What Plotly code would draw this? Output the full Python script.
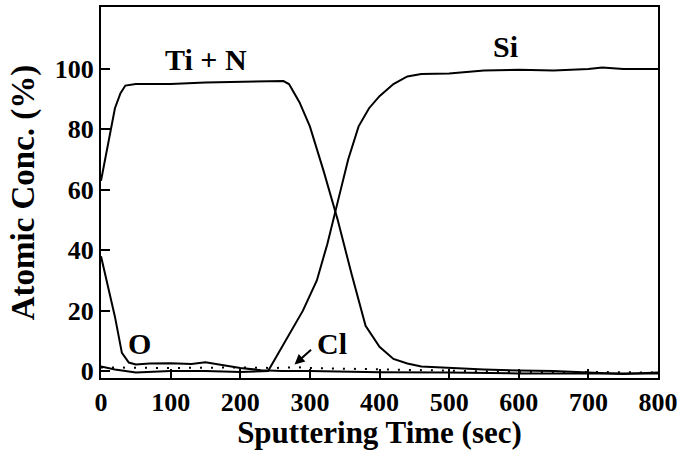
import plotly.graph_objects as go

# Ti + N
tin_t = [0, 10, 20, 28, 35, 50, 100, 150, 200, 250, 262, 270, 285, 300, 320, 340, 360, 380, 400, 420, 440, 460, 500, 550, 600, 650, 700, 750, 800]
tin_c = [63, 75, 87, 92, 94.5, 95, 95, 95.5, 95.8, 96, 96, 95, 89, 81, 66, 50, 32, 15, 8, 4, 2.5, 1.5, 1, 0.5, 0.2, 0, -0.5, -1, -0.5]

# Si
si_t = [0, 20, 50, 100, 150, 200, 240, 250, 270, 290, 310, 325, 340, 355, 370, 385, 400, 420, 440, 460, 500, 550, 600, 650, 700, 720, 750, 800]
si_c = [1.5, 0.5, -0.5, 0, 0, -0.3, 0, 4, 12, 20, 30, 42, 56, 70, 81, 87, 91, 95, 97.5, 98.3, 98.5, 99.5, 99.7, 99.5, 100, 100.5, 100, 100]

# O
o_t = [0, 10, 20, 30, 40, 50, 70, 100, 130, 150, 170, 200, 230, 260, 300, 400, 500, 600, 700, 800]
o_c = [38, 28, 18, 6, 2.8, 2.2, 2.5, 2.6, 2.3, 2.9, 2.2, 1, 0.3, 0, 0, -0.4, -0.5, -0.8, -0.8, -0.8]

# Cl
cl_t = [0, 50, 100, 150, 200, 250, 280, 300, 350, 400, 450, 500, 600, 700, 800]
cl_c = [1.2, 1.0, 1.0, 1.1, 1.2, 1.0, 1.3, 1.0, 0.8, 0.6, 0.3, 0.0, -0.3, -0.3, -0.5]

x_ticks = [0, 100, 200, 300, 400, 500, 600, 700, 800]
y_ticks = [0, 20, 40, 60, 80, 100]

font_family = "Liberation Serif, Times New Roman, serif"
line_style = dict(color="black", width=2)

fig = go.Figure()
fig.add_trace(go.Scatter(x=tin_t, y=tin_c, mode="lines", line=line_style, name="Ti + N"))
fig.add_trace(go.Scatter(x=si_t, y=si_c, mode="lines", line=line_style, name="Si"))
fig.add_trace(go.Scatter(x=o_t, y=o_c, mode="lines", line=line_style, name="O"))
fig.add_trace(go.Scatter(x=cl_t, y=cl_c, mode="lines", line=dict(color="black", width=2, dash="2px,9px"), name="Cl"))

ann_font = dict(family=font_family, size=30, color="black")
fig.add_annotation(x=151, y=103, text="<b>Ti + N</b>", showarrow=False, font=ann_font)
fig.add_annotation(x=581, y=107.5, text="<b>Si</b>", showarrow=False, font=ann_font)
fig.add_annotation(x=56, y=9, text="<b>O</b>", showarrow=False, font=ann_font)
fig.add_annotation(x=332, y=9, text="<b>Cl</b>", showarrow=False, font=ann_font)
fig.add_annotation(x=278, y=2.2, ax=18, ay=-16, text="", showarrow=True,
                   arrowhead=2, arrowsize=1, arrowwidth=2, arrowcolor="black")

fig.update_layout(
    width=683, height=450,
    margin=dict(l=101, r=22, t=5, b=72),
    plot_bgcolor="white", paper_bgcolor="white",
    showlegend=False,
    font=dict(family=font_family, color="black"),
)
fig.update_xaxes(
    range=[0, 800], tickvals=x_ticks, ticktext=[f"<b>{v}</b>" for v in x_ticks],
    ticks="inside", ticklen=9, tickwidth=2, tickcolor="black",
    showline=True, linecolor="black", linewidth=2, mirror=True, showgrid=False, zeroline=False,
    tickfont=dict(family=font_family, size=26),
    title=dict(text="<b>Sputtering Time (sec)</b>", font=dict(family=font_family, size=31), standoff=4),
)
fig.update_yaxes(
    range=[-2.3, 120.5], tickvals=y_ticks, ticktext=[f"<b>{v}</b>" for v in y_ticks],
    ticks="inside", ticklen=9, tickwidth=2, tickcolor="black",
    showline=True, linecolor="black", linewidth=2, mirror=True, showgrid=False, zeroline=False,
    tickfont=dict(family=font_family, size=26),
    title=dict(text="<b>Atomic Conc. (%)</b>", font=dict(family=font_family, size=33), standoff=10),
)

fig.write_html("out.html")
